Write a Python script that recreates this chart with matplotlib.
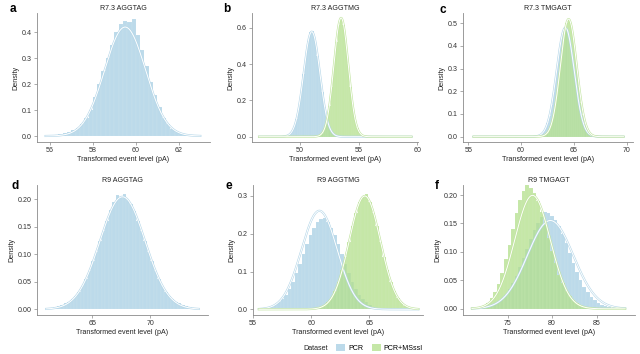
import numpy as np
import matplotlib
matplotlib.use("Agg")
import matplotlib.pyplot as plt
from matplotlib.patches import Patch
import matplotlib.patheffects as pe

plt.rcParams['font.family'] = ['Liberation Sans', 'DejaVu Sans']

# ---------------- data ----------------
titles = ["R7.3 AGGTAG", "R7.3 AGGTMG", "R7.3 TMGAGT", "R9 AGGTAG", "R9 AGGTMG", "R9 TMGAGT"]
letters = ["a", "b", "c", "d", "e", "f"]
series_names = ["PCR", "PCR+MSssI"]

# histogram: first bin left edge, bin width, densities
a_pcr_start, a_pcr_width = 55.8, 0.2
a_pcr = [0.001, 0.002, 0.004, 0.006, 0.010, 0.015, 0.022, 0.030, 0.045, 0.070, 0.100, 0.150,
         0.200, 0.250, 0.300, 0.350, 0.400, 0.430, 0.445, 0.440, 0.450, 0.390, 0.330, 0.270,
         0.210, 0.160, 0.110, 0.070, 0.045, 0.028, 0.017, 0.010, 0.006, 0.003, 0.002, 0.001]

b_pcr_start, b_pcr_width = 48.6, 0.2
b_pcr = [0.002, 0.006, 0.013, 0.028, 0.055, 0.099, 0.163, 0.248, 0.348, 0.447, 0.529, 0.574,
         0.580, 0.529, 0.447, 0.348, 0.248, 0.163, 0.099, 0.055, 0.028, 0.013, 0.006, 0.002]
b_ms_start, b_ms_width = 51.2, 0.2
b_ms = [0.001, 0.003, 0.008, 0.021, 0.046, 0.093, 0.170, 0.275, 0.400, 0.524, 0.616, 0.655,
        0.616, 0.524, 0.400, 0.275, 0.170, 0.093, 0.046, 0.021, 0.008, 0.003, 0.001]

c_pcr_start, c_pcr_width = 61.0, 0.2
c_pcr = [0.0005, 0.001, 0.002, 0.005, 0.010, 0.020, 0.035, 0.059, 0.093, 0.140, 0.198, 0.266,
         0.337, 0.400, 0.450, 0.477, 0.477, 0.450, 0.400, 0.337, 0.266, 0.198, 0.140, 0.093,
         0.059, 0.035, 0.020, 0.010, 0.005, 0.002, 0.001, 0.0005]
c_ms_start, c_ms_width = 61.4, 0.2
c_ms = [0.001, 0.002, 0.003, 0.006, 0.010, 0.018, 0.035, 0.070, 0.110, 0.160, 0.225, 0.300,
        0.380, 0.452, 0.502, 0.520, 0.502, 0.452, 0.380, 0.300, 0.218, 0.149, 0.095, 0.057,
        0.032, 0.016, 0.008, 0.004, 0.0015, 0.0006]

d_pcr_start, d_pcr_width = 61.0, 0.3
d_pcr = [0.002, 0.003, 0.004, 0.006, 0.008, 0.011, 0.014, 0.019, 0.025, 0.032, 0.043, 0.055,
         0.070, 0.087, 0.105, 0.124, 0.143, 0.161, 0.180, 0.195, 0.208, 0.203, 0.210, 0.198,
         0.192, 0.178, 0.161, 0.143, 0.124, 0.105, 0.087, 0.070, 0.055, 0.043, 0.032, 0.025,
         0.019, 0.014, 0.011, 0.008, 0.006, 0.004, 0.003, 0.002]

e_pcr_start, e_pcr_width = 55.6, 0.3
e_pcr = [0.0015, 0.003, 0.0045, 0.007, 0.012, 0.018, 0.027, 0.039, 0.054, 0.073, 0.095, 0.119,
         0.146, 0.172, 0.196, 0.216, 0.231, 0.239, 0.241, 0.231, 0.216, 0.196, 0.172, 0.146,
         0.119, 0.095, 0.073, 0.054, 0.039, 0.027, 0.018, 0.012, 0.007, 0.0045, 0.003, 0.0015,
         0.001, 0.0005]
e_ms_start, e_ms_width = 59.2, 0.3
e_ms = [0.001, 0.001, 0.0015, 0.002, 0.0035, 0.006, 0.010, 0.018, 0.030, 0.048, 0.072, 0.103,
        0.139, 0.179, 0.220, 0.256, 0.283, 0.298, 0.305, 0.283, 0.256, 0.220, 0.179, 0.139,
        0.103, 0.072, 0.048, 0.030, 0.018, 0.010, 0.006, 0.003, 0.0014, 0.0007]

f_pcr_start, f_pcr_width = 71.4, 0.4
f_pcr = [0.0007, 0.0013, 0.002, 0.0034, 0.0053, 0.0082, 0.012, 0.0175, 0.025, 0.034, 0.045, 0.058,
         0.073, 0.089, 0.106, 0.123, 0.138, 0.151, 0.161, 0.170, 0.168, 0.164, 0.157, 0.145,
         0.131, 0.115, 0.098, 0.081, 0.065, 0.051, 0.039, 0.029, 0.021, 0.015, 0.010, 0.0067,
         0.0043, 0.0027, 0.0017, 0.001, 0.0006, 0.0004]
f_ms_start, f_ms_width = 71.0, 0.4
f_ms = [0.002, 0.003, 0.004, 0.0065, 0.011, 0.019, 0.029, 0.044, 0.063, 0.087, 0.113, 0.141,
        0.168, 0.191, 0.207, 0.218, 0.213, 0.204, 0.190, 0.171, 0.148, 0.124, 0.101, 0.080,
        0.060, 0.045, 0.032, 0.022, 0.015, 0.0095, 0.006, 0.0036, 0.0021, 0.0012, 0.0007,
        0.0004, 0.0002]

# fitted normal densities: (mean, sd) per series
a_fit = [(59.5, 0.95), None]
b_fit = [(51.0, 0.69), (53.5, 0.61)]
c_fit = [(64.2, 0.83), (64.5, 0.77)]
d_fit = [(67.6, 1.95), None]
e_fit = [(60.7, 1.53), (64.6, 1.33)]
f_fit = [(79.8, 2.57), (77.8, 2.0)]

# data extents of each panel
extents = [(55.8, 63.0), (46.5, 59.5), (55.5, 69.7), (61.0, 74.2), (55.5, 69.2), (71.0, 88.2)]

# axes settings
xlims = [(55.4, 63.45), (45.9, 60.06), (54.5, 70.6), (60.2, 75.0), (55.0, 69.6), (70.0, 89.3)]
ylims = [(-0.023, 0.474), (-0.029, 0.681), (-0.0234, 0.545), (-0.0104, 0.226), (-0.0151, 0.329), (-0.0109, 0.2177)]
xticks = [[56, 58, 60, 62], [50, 55, 60], [55, 60, 65, 70], [65, 70], [55, 60, 65], [75, 80, 85]]
yticks = [[0.0, 0.1, 0.2, 0.3, 0.4], [0.0, 0.2, 0.4, 0.6], [0.0, 0.1, 0.2, 0.3, 0.4, 0.5],
          [0.0, 0.05, 0.10, 0.15, 0.20], [0.0, 0.1, 0.2, 0.3], [0.0, 0.05, 0.10, 0.15, 0.20]]
yfmt = ["{:.1f}", "{:.1f}", "{:.1f}", "{:.2f}", "{:.1f}", "{:.2f}"]

hists = [
    [(a_pcr_start, a_pcr_width, a_pcr), None],
    [(b_pcr_start, b_pcr_width, b_pcr), (b_ms_start, b_ms_width, b_ms)],
    [(c_pcr_start, c_pcr_width, c_pcr), (c_ms_start, c_ms_width, c_ms)],
    [(d_pcr_start, d_pcr_width, d_pcr), None],
    [(e_pcr_start, e_pcr_width, e_pcr), (e_ms_start, e_ms_width, e_ms)],
    [(f_pcr_start, f_pcr_width, f_pcr), (f_ms_start, f_ms_width, f_ms)],
]
fits = [a_fit, b_fit, c_fit, d_fit, e_fit, f_fit]

# ---------------- style ----------------
fill_colors = ["#A6CEE3", "#B2DF8A"]
line_colors = ["#b4d6e8", "#bfe39c"]
FS = 5.1

W, H = 640, 354
fig = plt.figure(figsize=(W / 100, H / 100), dpi=100)

# axes boxes in pixel coordinates (left, right, top, bottom)
boxes = [(37, 210, 13, 142), (252, 418, 13, 142), (463, 633, 13, 142),
         (37, 208, 185, 315), (253, 423, 185, 315), (463, 635, 185, 315)]
letter_pos = [(10, 9), (223, 9), (440, 10), (12, 186), (225, 186), (435, 186)]

for i in range(6):
    l, r, t, b = boxes[i]
    ax = fig.add_axes([l / W, 1 - b / H, (r - l) / W, (b - t) / H])
    for k in range(2):
        h = hists[i][k]
        if h is None:
            continue
        start, width, vals = h
        vals = np.asarray(vals)
        edges = start + width * np.arange(len(vals) + 1)
        ax.bar(edges[:-1], vals, width=width, align='edge', color=fill_colors[k],
               alpha=0.75, edgecolor='white', linewidth=0.06, zorder=2 + k)
    for k in range(2):
        fp = fits[i][k]
        if fp is None:
            continue
        mu, sd = fp
        xs = np.linspace(extents[i][0], extents[i][1], 400)
        ys = np.exp(-0.5 * ((xs - mu) / sd) ** 2) / (sd * np.sqrt(2 * np.pi))
        ax.plot(xs, ys, color='white', lw=0.7, zorder=5 + k,
                path_effects=[pe.Stroke(linewidth=1.5, foreground=line_colors[k]), pe.Normal()])
    ax.set_xlim(*xlims[i])
    ax.set_ylim(*ylims[i])
    ax.set_xticks(xticks[i])
    ax.set_xticklabels([str(v) for v in xticks[i]])
    ax.set_yticks(yticks[i])
    ax.set_yticklabels([yfmt[i].format(v) for v in yticks[i]])
    for s in ["top", "right"]:
        ax.spines[s].set_visible(False)
    for s in ["left", "bottom"]:
        ax.spines[s].set_color("#8a8a8a")
        ax.spines[s].set_linewidth(0.6)
    ax.tick_params(axis='both', labelsize=FS, length=2, width=0.5, color="#8a8a8a",
                   pad=1.5, labelcolor="#333333")
    ax.set_title(titles[i], fontsize=FS, pad=2, color="#222222")
    ax.set_xlabel("Transformed event level (pA)", fontsize=FS, labelpad=1.5, color="#222222")
    ax.set_ylabel("Density", fontsize=FS, labelpad=2, color="#222222")
    lx, ly = letter_pos[i]
    fig.text(lx / W, 1 - ly / H, letters[i], fontsize=8.5, fontweight='bold',
             ha='left', va='center', color='black')

handles = [Patch(facecolor=fill_colors[k], alpha=0.75, edgecolor='none') for k in range(2)]
fig.legend(handles, series_names, ncol=2, loc='center left',
           bbox_to_anchor=(336 / W, 1 - 348 / H), frameon=False, fontsize=FS,
           handlelength=1.3, handleheight=1.1, columnspacing=1.2, handletextpad=0.4,
           borderpad=0, borderaxespad=0)
fig.text(303 / W, 1 - 348 / H, "Dataset", fontsize=FS, ha='left', va='center', color="#222222")

fig.savefig("out.png", dpi=100)
